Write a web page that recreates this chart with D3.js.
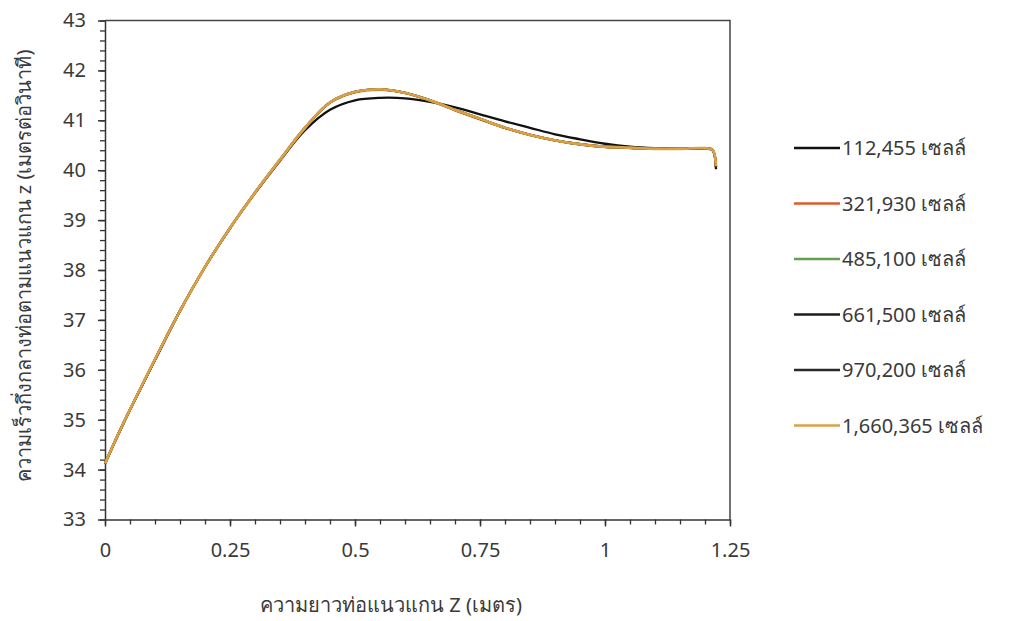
<!DOCTYPE html>
<html lang="th">
<head>
<meta charset="UTF-8">
<title>ความเร็วกึ่งกลางท่อ</title>
<script src="https://d3js.org/d3.v7.min.js"></script>
<style>
html, body { margin: 0; padding: 0; background: #fff; }
text { font-family: "Noto Sans", "Open Sans", sans-serif; fill: #3a3a3a; }
</style>
</head>
<body>
<div id="chart"></div>
<script>
// position along the pipe (m)
var zPos = [0, 0.025, 0.05, 0.1, 0.15, 0.2, 0.25, 0.3, 0.35, 0.4, 0.45, 0.5, 0.55, 0.6,
            0.65, 0.7, 0.75, 0.8, 0.85, 0.9, 0.95, 1.0, 1.05, 1.1, 1.15, 1.2, 1.215, 1.222];

// centreline velocity for each mesh (m/s)
var mesh112455  = [34.12, 34.67, 35.2, 36.2, 37.18, 38.06, 38.84, 39.54, 40.19, 40.8, 41.21, 41.4, 41.45, 41.44,
                   41.37, 41.26, 41.12, 40.98, 40.85, 40.72, 40.62, 40.53, 40.47, 40.44, 40.43, 40.43, 40.40, 40.02];
var mesh321930  = [34.12, 34.68, 35.2, 36.21, 37.18, 38.06, 38.84, 39.54, 40.2, 40.84, 41.35, 41.56, 41.61, 41.55,
                   41.4, 41.2, 41.02, 40.85, 40.71, 40.6, 40.52, 40.47, 40.45, 40.43, 40.43, 40.44, 40.41, 40.07];
var mesh485100  = [34.12, 34.68, 35.2, 36.21, 37.18, 38.06, 38.84, 39.55, 40.21, 40.85, 41.36, 41.57, 41.62, 41.55,
                   41.4, 41.21, 41.03, 40.85, 40.71, 40.6, 40.52, 40.47, 40.45, 40.43, 40.43, 40.44, 40.41, 40.07];
var mesh661500  = [34.12, 34.68, 35.2, 36.2, 37.18, 38.06, 38.84, 39.55, 40.21, 40.85, 41.36, 41.57, 41.62, 41.55,
                   41.4, 41.21, 41.03, 40.85, 40.71, 40.6, 40.52, 40.47, 40.45, 40.43, 40.43, 40.44, 40.41, 40.06];
var mesh970200  = [34.12, 34.68, 35.2, 36.2, 37.18, 38.06, 38.84, 39.55, 40.21, 40.85, 41.36, 41.57, 41.62, 41.55,
                   41.4, 41.21, 41.03, 40.85, 40.71, 40.6, 40.52, 40.47, 40.45, 40.43, 40.43, 40.44, 40.41, 40.06];
var mesh1660365 = [34.12, 34.68, 35.2, 36.21, 37.18, 38.06, 38.84, 39.55, 40.21, 40.85, 41.36, 41.57, 41.62, 41.55,
                   41.4, 41.21, 41.03, 40.85, 40.71, 40.6, 40.52, 40.47, 40.45, 40.43, 40.43, 40.44, 40.41, 40.08];

var seriesNames = ["112,455 เซลล์", "321,930 เซลล์", "485,100 เซลล์", "661,500 เซลล์", "970,200 เซลล์", "1,660,365 เซลล์"];
var seriesValues = [mesh112455, mesh321930, mesh485100, mesh661500, mesh970200, mesh1660365];
var seriesColors = ["#111111", "#e05a2b", "#63a04f", "#1c1c1c", "#2a2a2a", "#d9a146"];

var xTicks = [0, 0.25, 0.5, 0.75, 1, 1.25];
var yTicks = [33, 34, 35, 36, 37, 38, 39, 40, 41, 42, 43];

var W = 1018, H = 621;
var margin = {top: 20.5, right: 288, bottom: 101.5, left: 105};
var width = W - margin.left - margin.right,
    height = H - margin.top - margin.bottom;

var svg = d3.select("#chart").append("svg")
    .attr("width", W).attr("height", H);
var g = svg.append("g")
    .attr("transform", "translate(" + margin.left + "," + margin.top + ")");

var x = d3.scaleLinear().domain([0, 1.25]).range([0, width]);
var y = d3.scaleLinear().domain([33, 43]).range([height, 0]);

// frame on top and right
g.append("path")
  .attr("d", "M0,0H" + width + "V" + height)
  .attr("fill", "none").attr("stroke", "#444").attr("stroke-width", 1.5);

// minor ticks
g.append("g")
  .attr("transform", "translate(0," + height + ")")
  .call(d3.axisBottom(x).tickValues(d3.range(0, 1.2501, 0.05)).tickSize(5).tickFormat(""))
  .call(function(s) { s.select(".domain").remove(); s.selectAll("line").attr("stroke", "#333").attr("stroke-width", 1.3); });
g.append("g")
  .call(d3.axisLeft(y).tickValues(d3.range(33, 43.001, 0.2)).tickSize(5).tickFormat(""))
  .call(function(s) { s.select(".domain").remove(); s.selectAll("line").attr("stroke", "#333").attr("stroke-width", 1.3); });

// major ticks + labels
var xAxis = g.append("g")
  .attr("transform", "translate(0," + height + ")")
  .call(d3.axisBottom(x).tickValues(xTicks).tickSize(7).tickSizeOuter(0).tickPadding(16)
        .tickFormat(function(d) { return String(d); }));
var yAxis = g.append("g")
  .call(d3.axisLeft(y).tickValues(yTicks).tickSize(7).tickSizeOuter(0).tickPadding(12));

[xAxis, yAxis].forEach(function(a) {
  a.select(".domain").attr("stroke", "#333").attr("stroke-width", 1.5);
  a.selectAll("line").attr("stroke", "#333").attr("stroke-width", 1.5);
  a.selectAll("text").attr("font-size", 20).attr("fill", "#3a3a3a")
    .style("font-family", "'Noto Sans', 'Open Sans', sans-serif");
});

// lines
var line = d3.line()
  .x(function(d, i) { return x(zPos[i]); })
  .y(function(d) { return y(d); })
  .curve(d3.curveCatmullRom.alpha(0.5));

seriesValues.forEach(function(vals, i) {
  g.append("path")
    .datum(vals)
    .attr("fill", "none")
    .attr("stroke", seriesColors[i])
    .attr("stroke-width", i === 5 ? 2.8 : 2.3)
    .attr("stroke-linejoin", "round")
    .attr("d", line);
});

// axis titles
svg.append("text")
  .attr("x", 391).attr("y", 612)
  .attr("text-anchor", "middle")
  .attr("font-size", 20)
  .text("ความยาวท่อแนวแกน Z (เมตร)");

svg.append("text")
  .attr("transform", "translate(31,266) rotate(-90)")
  .attr("text-anchor", "middle")
  .attr("font-size", 20)
  .text("ความเร็วกึ่งกลางท่อตามแนวแกน z (เมตรต่อวินาที)");

// legend
var legend = svg.append("g").attr("transform", "translate(794,148)");
seriesNames.forEach(function(name, i) {
  var row = legend.append("g").attr("transform", "translate(0," + (i * 55.5) + ")");
  row.append("line")
    .attr("x1", 0).attr("x2", 46).attr("y1", 0).attr("y2", 0)
    .attr("stroke", seriesColors[i]).attr("stroke-width", 2.6);
  row.append("text")
    .attr("x", 48).attr("y", 7)
    .attr("font-size", 20)
    .text(name);
});
</script>
</body>
</html>
